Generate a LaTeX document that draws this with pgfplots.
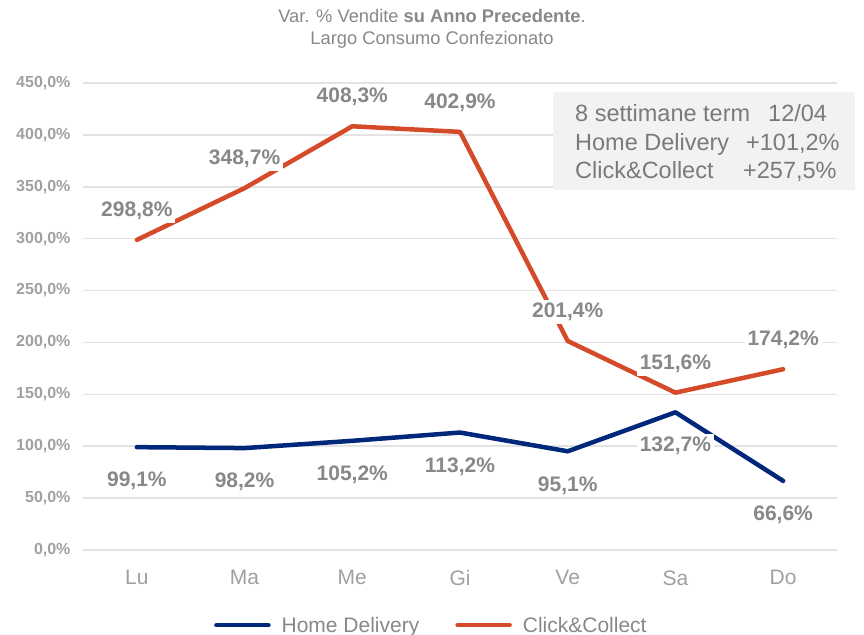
\documentclass[border=0pt]{standalone}
\usepackage{pgfplots}
\pgfplotsset{compat=1.18}
\usepackage{fontspec}
\setmainfont{Liberation Sans}
\definecolor{hd}{HTML}{00287A}
\definecolor{cc}{HTML}{D54B29}
\definecolor{tickgray}{HTML}{A0A0A0}
\definecolor{labgray}{HTML}{888888}
\definecolor{boxgray}{HTML}{F2F2F2}
\definecolor{gridgray}{HTML}{E3E3E3}
\begin{document}
\begin{tikzpicture}
\begin{axis}[
  scale only axis, width=754bp, height=467bp,
  at={(0,0)}, anchor=south west,
  xmin=-0.5, xmax=6.5, ymin=0, ymax=450,
  axis line style={draw=none},
  major tick length=0pt,
  xtick={0,1,2,3,4,5,6},
  xticklabels={Lu,Ma,Me,Gi,Ve,Sa,Do},
  ytick={0,50,100,150,200,250,300,350,400,450},
  yticklabel={\pgfmathprintnumber[fixed,fixed zerofill,precision=1,use comma]{\tick}\%},
  /pgf/number format/assume math mode=true,
  yticklabel style={font=\bfseries\fontsize{16bp}{18bp}\selectfont, text=tickgray, xshift=-9bp},
  xticklabel style={font=\fontsize{21bp}{24bp}\selectfont, text=tickgray, yshift=-17bp},
  ymajorgrids, grid style={gridgray, line width=1.5bp},
  clip=false,
  legend columns=2,
  legend style={draw=none, fill=none, at={(0.462,-0.161)}, anchor=center,
    font=\fontsize{21bp}{24bp}\selectfont, text=labgray,
    /tikz/every odd column/.append style={column sep=9bp},
    /tikz/every even column/.append style={column sep=34bp}},
  legend image code/.code={\draw[#1, line cap=round] (0bp,0bp) -- (52bp,0bp);},
]
\addplot[hd, line width=4.5bp, line cap=round, line join=round] coordinates {
 (0,99.1) (1,98.2) (2,105.2) (3,113.2) (4,95.1) (5,132.7) (6,66.6)};
\addlegendentry{Home Delivery}
\addplot[cc, line width=4.5bp, line cap=round, line join=round] coordinates {
 (0,298.8) (1,348.7) (2,408.3) (3,402.9) (4,201.4) (5,151.6) (6,174.2)};
\addlegendentry{Click\&Collect}
% labels
\addplot[draw=none, forget plot, nodes near coords={\pgfmathprintnumber[fixed,fixed zerofill,precision=1,use comma]{\pgfplotspointmeta}\%},
  nodes near coords style={anchor=center, yshift=-34bp, fill=white, inner sep=3bp, text=labgray, font=\bfseries\fontsize{21bp}{24bp}\selectfont}]
 coordinates {(0,99.1) (1,98.2) (2,105.2) (3,113.2) (4,95.1) (5,132.7) (6,66.6)};
\addplot[draw=none, forget plot, nodes near coords={\pgfmathprintnumber[fixed,fixed zerofill,precision=1,use comma]{\pgfplotspointmeta}\%},
  nodes near coords style={anchor=center, yshift=29bp, fill=white, inner sep=3bp, text=labgray, font=\bfseries\fontsize{21bp}{24bp}\selectfont}]
 coordinates {(0,298.8) (1,348.7) (2,408.3) (3,402.9) (4,201.4) (5,151.6) (6,174.2)};
\end{axis}
% title
\node[text=labgray, font=\fontsize{18.3bp}{22bp}\selectfont, align=center] at (349bp,521bp)
 {Var. \% Vendite \textbf{su Anno Precedente}.\\Largo Consumo Confezionato};
% annotation box
\fill[boxgray] (470bp,458bp) rectangle (772bp,360bp);
\begin{scope}[every node/.style={anchor=base west, text=labgray!90!black, font=\fontsize{23.5bp}{28bp}\selectfont, inner sep=0pt}]
\node at (492bp,428bp) {\makebox[193bp][l]{8 settimane term}12/04};
\node at (492bp,399bp) {\makebox[171bp][l]{Home Delivery}+101,2\%};
\node at (492bp,371bp) {\makebox[168bp][l]{Click\&Collect}+257,5\%};
\end{scope}
\pgfresetboundingbox
\useasboundingbox (-83bp,-85bp) rectangle (781bp,550bp);
\end{tikzpicture}
\end{document}
